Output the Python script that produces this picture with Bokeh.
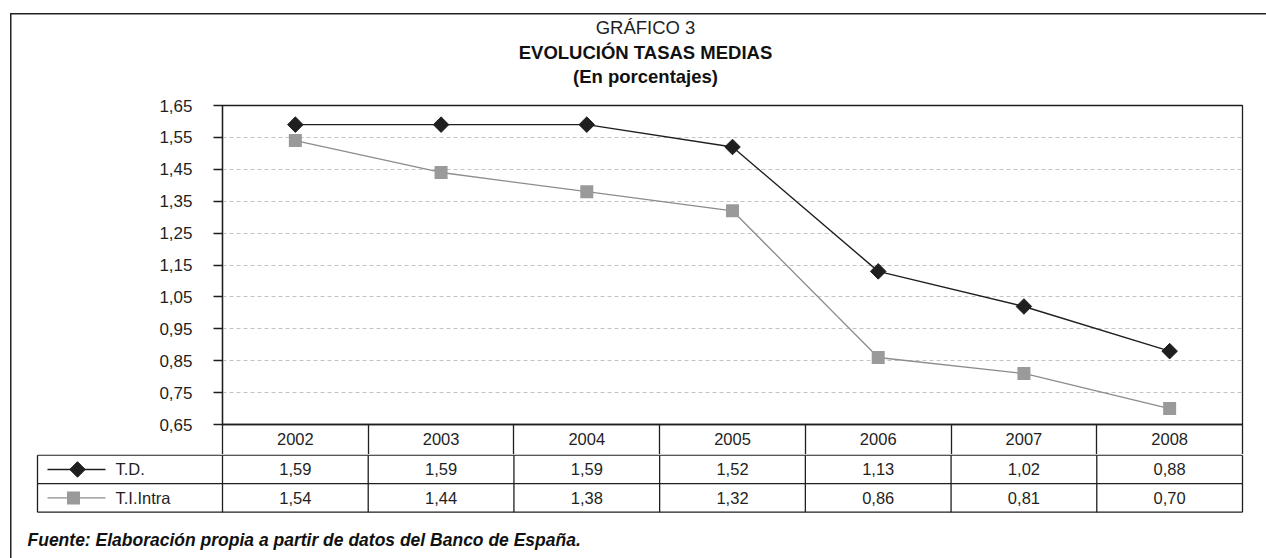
import numpy as np
from bokeh.plotting import figure
from bokeh.models import Range1d, FixedTicker, CustomJSTickFormatter
from bokeh.layouts import column
from bokeh.embed import file_html
from bokeh.resources import INLINE
from bokeh.core.properties import value

# ---------------- data ----------------
YEARS = ["2002", "2003", "2004", "2005", "2006", "2007", "2008"]
TD = [1.59, 1.59, 1.59, 1.52, 1.13, 1.02, 0.88]
TI_INTRA = [1.54, 1.44, 1.38, 1.32, 0.86, 0.81, 0.70]
SERIES_NAMES = ["T.D.", "T.I.Intra"]
Y_TICKS = [0.65, 0.75, 0.85, 0.95, 1.05, 1.15, 1.25, 1.35, 1.45, 1.55, 1.65]
TITLE_LINES = ["GRÁFICO 3", "EVOLUCIÓN TASAS MEDIAS", "(En porcentajes)"]
SOURCE_NOTE = "Fuente: Elaboración propia a partir de datos del Banco de España."

# ---------------- style / layout (px) ----------------
FONT = "Liberation Sans"
INK = "#1f1f1f"
GREY_LINE = "#8c8c8c"
GREY_MARK = "#9a9a9a"
GRID = "#c4c4c4"
FS = "16.5px"

W = 1266
H_HEAD = 92
H_CHART = 362
H_TABLE = 104
FRAME_L, FRAME_R, FRAME_T, FRAME_B = 222, 24, 13, 30
N = len(YEARS)
COL_W = (W - FRAME_L - FRAME_R) / N
ROW_H = 28.5
TABLE_TOP = 0.7

xs = [i + 0.5 for i in range(N)]

# ---------------- header (titles) ----------------
h = figure(width=W, height=H_HEAD, output_backend="svg", toolbar_location=None,
           x_range=Range1d(0, W), y_range=Range1d(H_HEAD, 0),
           x_axis_location=None, y_axis_location=None,
           min_border_left=0, min_border_right=0, min_border_top=0, min_border_bottom=0,
           border_fill_color=None, background_fill_color=None, outline_line_color=None)
h.frame_align = False
h.xgrid.visible = False
h.ygrid.visible = False
TITLE_X = 645
TITLE_Y = [27, 52, 76]
h.text(x=[TITLE_X], y=[TITLE_Y[0]], text=[TITLE_LINES[0]], text_align="center", text_baseline="middle",
       text_font=value(FONT), text_font_size="18.5px", text_color=INK)
h.text(x=[TITLE_X] * 2, y=TITLE_Y[1:], text=TITLE_LINES[1:], text_align="center", text_baseline="middle",
       text_font=value(FONT), text_font_size="18.5px", text_font_style="bold", text_color="#111111")

# ---------------- chart ----------------
p = figure(width=W, height=H_CHART, output_backend="svg", toolbar_location=None,
           x_range=Range1d(0, N), y_range=Range1d(Y_TICKS[0], Y_TICKS[-1]),
           min_border_left=FRAME_L, min_border_right=FRAME_R,
           min_border_top=FRAME_T, min_border_bottom=FRAME_B,
           border_fill_color=None, background_fill_color="white",
           outline_line_color=INK, outline_line_width=1.3)
p.frame_align = False

xa = p.xaxis[0]
xa.ticker = FixedTicker(ticks=xs, minor_ticks=list(range(N + 1)))
xa.formatter = CustomJSTickFormatter(args=dict(years=YEARS),
                                     code="const i = Math.round(tick - 0.5); return (i >= 0 && i < years.length) ? years[i] : '';")
xa.major_tick_out = 0
xa.major_tick_in = 0
xa.minor_tick_out = FRAME_B
xa.minor_tick_in = 0
xa.minor_tick_line_color = INK
xa.minor_tick_line_width = 1.3
xa.axis_line_color = INK
xa.axis_line_width = 1.3
xa.major_label_standoff = -22
xa.major_label_text_font = FONT
xa.major_label_text_font_size = FS
xa.major_label_text_color = INK

ya = p.yaxis[0]
ya.ticker = FixedTicker(ticks=Y_TICKS)
ya.formatter = CustomJSTickFormatter(code="return tick.toFixed(2).replace('.', ',');")
ya.major_tick_out = 9
ya.major_tick_in = 0
ya.major_tick_line_color = INK
ya.major_tick_line_width = 1.3
ya.axis_line_color = INK
ya.axis_line_width = 1.3
ya.major_label_standoff = 21
ya.major_label_text_font = FONT
ya.major_label_text_font_size = "17px"
ya.major_label_text_color = INK

p.xgrid.visible = False
p.ygrid.ticker = FixedTicker(ticks=Y_TICKS)
p.ygrid.grid_line_color = GRID
p.ygrid.grid_line_dash = "4 3"
p.ygrid.grid_line_width = 1

p.line(xs, TI_INTRA, line_color=GREY_LINE, line_width=1.3)
p.scatter(xs, TI_INTRA, marker="square", size=13, fill_color=GREY_MARK, line_color=None)
p.line(xs, TD, line_color=INK, line_width=1.4)
p.scatter(xs, TD, marker="square", angle=np.pi / 4, size=11, fill_color=INK, line_color=INK)

# ---------------- table + source ----------------
def dx(px):
    return (px - FRAME_L) / COL_W

def dy(py):
    return (py - TABLE_TOP) / ROW_H

q = figure(width=W, height=H_TABLE, output_backend="svg", toolbar_location=None,
           x_range=Range1d(dx(0), dx(W)), y_range=Range1d(dy(H_TABLE), dy(0)),
           x_axis_location=None, y_axis_location=None,
           min_border_left=0, min_border_right=0, min_border_top=0, min_border_bottom=0,
           border_fill_color=None, background_fill_color=None, outline_line_color=None)
q.frame_align = False
q.xgrid.visible = False
q.ygrid.visible = False

n_rows = len(SERIES_NAMES)
table_left = dx(37)
hy = list(range(n_rows + 1))
q.segment(x0=[table_left] * len(hy), y0=hy, x1=[N] * len(hy), y1=hy, line_color=INK, line_width=1.3)
vx = [table_left] + list(range(N + 1))
q.segment(x0=vx, y0=[0] * len(vx), x1=vx, y1=[n_rows] * len(vx), line_color=INK, line_width=1.3)

tx, ty, tt = [], [], []
for r, series in enumerate([TD, TI_INTRA]):
    for i, v in enumerate(series):
        tx.append(i + 0.5)
        ty.append(r + 0.5)
        tt.append(f"{v:.2f}".replace(".", ","))
q.text(x=tx, y=ty, text=tt, text_align="center", text_baseline="middle",
       text_font=value(FONT), text_font_size=FS, text_color=INK)

rows_c = [r + 0.5 for r in range(n_rows)]
q.segment(x0=[dx(47)] * n_rows, y0=rows_c, x1=[dx(105)] * n_rows, y1=rows_c,
          line_color=[INK, GREY_LINE], line_width=[1.4, 1.3])
q.scatter([dx(77)], [rows_c[0]], marker="square", angle=np.pi / 4, size=11, fill_color=INK, line_color=INK)
q.scatter([dx(73)], [rows_c[1]], marker="square", size=13, fill_color=GREY_MARK, line_color=None)
q.text(x=[dx(115)] * n_rows, y=rows_c, text=SERIES_NAMES, text_align="left", text_baseline="middle",
       text_font=value(FONT), text_font_size=FS, text_color=INK)

q.text(x=[dx(27)], y=[dy(85)], text=[SOURCE_NOTE], text_align="left", text_baseline="middle",
       text_font=value(FONT), text_font_size="17.5px", text_font_style="bold italic", text_color="#111111")

box_css = ("linear-gradient(#222, #222) 10px 13px / 1.5px 100% no-repeat, "
           "linear-gradient(#222, #222) 10px 13px / 100% 1.5px no-repeat")
layout = column(h, p, q, styles={"background": box_css})

open("out.html", "w").write(file_html(layout, INLINE))
